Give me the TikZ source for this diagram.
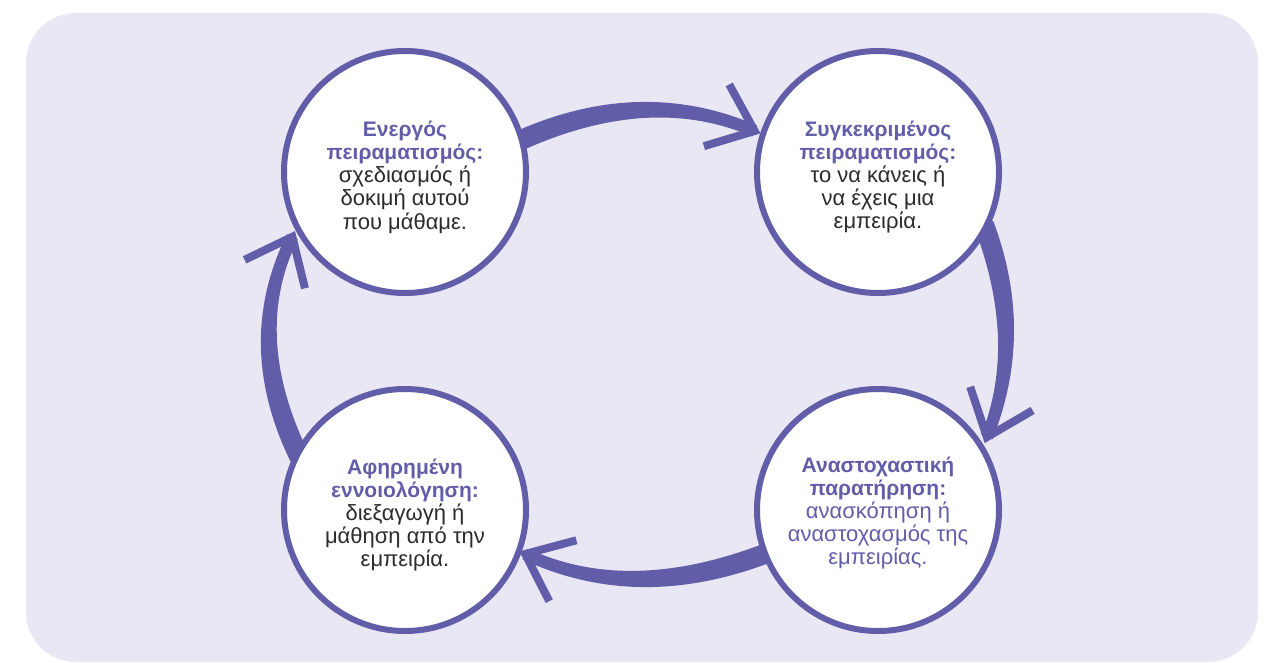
\documentclass[tikz,border=0pt]{standalone}
\usepackage{fontspec}
\setmainfont{Liberation Sans}
\usetikzlibrary{calc}
\definecolor{bgc}{HTML}{E9E7F3}
\definecolor{pur}{HTML}{625DA8}
\definecolor{txt}{HTML}{2B2B2B}
\newcommand{\hd}[1]{\textcolor{pur}{\fontsize{21}{23}\selectfont\bfseries #1}}
% #1 prefix, #2 tail, #3 control, #4 tip vertex, #5 half width tail, #6 half width tip
\newcommand{\bandarrow}[6]{%
  \coordinate (#1a) at #2;
  \coordinate (#1c) at #3;
  \coordinate (#1t) at #4;
  \coordinate (#1ao) at ($(#1a)!#5!90:(#1c)$);
  \coordinate (#1ai) at ($(#1a)!#5!-90:(#1c)$);
  \coordinate (#1to) at ($(#1t)!#6!-90:(#1c)$);
  \coordinate (#1ti) at ($(#1t)!#6!90:(#1c)$);
  \coordinate (#1ao2) at ($(#1ao)+(#1c)-(#1a)$);
  \coordinate (#1ai2) at ($(#1ai)+(#1c)-(#1a)$);
  \coordinate (#1to2) at ($(#1to)+(#1c)-(#1t)$);
  \coordinate (#1ti2) at ($(#1ti)+(#1c)-(#1t)$);
  \coordinate (#1co) at (intersection of #1ao--#1ao2 and #1to--#1to2);
  \coordinate (#1ci) at (intersection of #1ai--#1ai2 and #1ti--#1ti2);
  \fill[pur] (#1ao) .. controls ($(#1ao)!0.6667!(#1co)$) and ($(#1to)!0.6667!(#1co)$) .. (#1to)
     -- (#1ti) .. controls ($(#1ti)!0.6667!(#1ci)$) and ($(#1ai)!0.6667!(#1ci)$) .. (#1ai) -- cycle;
  \draw[headline] ($(#1t)!53pt!-38:(#1c)$) -- (#1t) -- ($(#1t)!53pt!40:(#1c)$);
}
\begin{document}
\begin{tikzpicture}[x=1pt,y=-1pt,
  circ/.style={circle,draw=pur,fill=white,line width=6pt,minimum size=242pt,inner sep=0pt},
  lbl/.style={align=center,text=txt,font=\fontsize{22}{23.2}\selectfont,inner sep=0pt},
  headline/.style={draw=pur,line width=8pt,line join=miter,line cap=butt}]
\useasboundingbox (0,0) rectangle (1271,662);
\fill[bgc,rounded corners=50pt] (26,13) rectangle (1258,662);
% circle positions
\coordinate (ptl) at (405,172);
\coordinate (ptr) at (878,172);
\coordinate (pbl) at (405,510);
\coordinate (pbr) at (878,510);
% arrows (drawn beneath circles)
\bandarrow{top}{($(ptl)!115pt!15:($(ptl)+(10,0)$)$)}{(644.5,83.5)}{($(ptr)!130pt!161.6:($(ptr)+(10,0)$)$)}{10pt}{6pt}
\bandarrow{rgt}{($(ptr)!118pt!-26.3:($(ptr)+(10,0)$)$)}{(1026.5,337.5)}{($(pbr)!131pt!33.8:($(pbr)+(10,0)$)$)}{10pt}{6pt}
\bandarrow{bot}{($(pbr)!118pt!201.2:($(pbr)+(10,0)$)$)}{(633.5,604.5)}{($(pbl)!128pt!-20.1:($(pbl)+(10,0)$)$)}{10pt}{6pt}
\bandarrow{lft}{($(pbl)!118pt!153.4:($(pbl)+(10,0)$)$)}{(242,339)}{($(ptl)!130pt!-150.1:($(ptl)+(10,0)$)$)}{10pt}{6pt}
% circles
\node[circ] (tl) at (ptl) {};
\node[circ] (tr) at (ptr) {};
\node[circ] (bl) at (pbl) {};
\node[circ] (br) at (pbr) {};
% texts
\node[lbl] (tltext) at ($(tl)+(0,5)$) {\hd{Ενεργός}\\\hd{πειραματισμός:}\\σχεδιασμός ή\\δοκιμή αυτού\\που μάθαμε.};
\node[lbl] (trtext) at ($(tr)+(0,5)$) {\hd{Συγκεκριμένος}\\\hd{πειραματισμός:}\\το να κάνεις ή\\να έχεις μια\\εμπειρία.};
\node[lbl] (bltext) at ($(bl)+(0,5)$) {\hd{Αφηρημένη}\\\hd{εννοιολόγηση:}\\διεξαγωγή ή\\μάθηση από την\\εμπειρία.};
\node[lbl,text=pur] (brtext) at ($(br)+(0,3)$) {\hd{Αναστοχαστική}\\\hd{παρατήρηση:}\\ανασκόπηση ή\\αναστοχασμός της\\εμπειρίας.};
\end{tikzpicture}
\end{document}
